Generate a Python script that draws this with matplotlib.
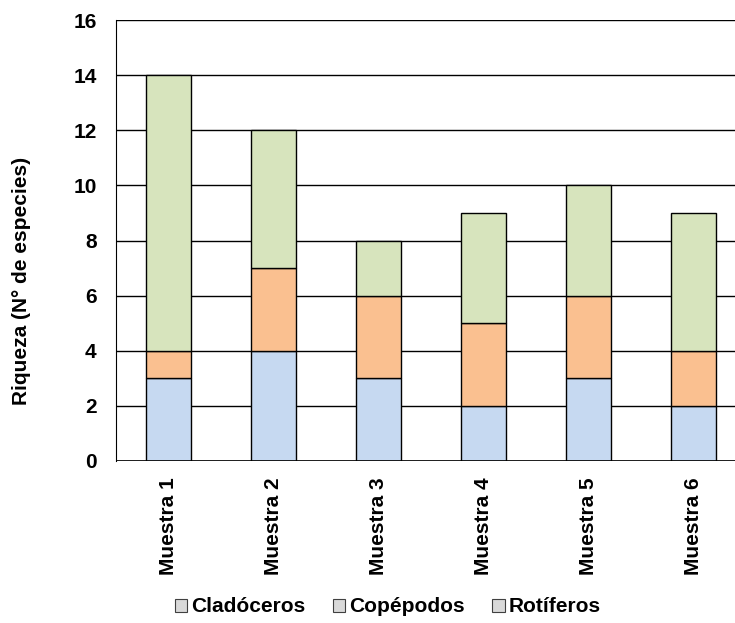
import matplotlib.pyplot as plt
from matplotlib.patches import Patch

muestras = ["Muestra 1", "Muestra 2", "Muestra 3", "Muestra 4", "Muestra 5", "Muestra 6"]
cladoceros = [3, 4, 3, 2, 3, 2]
copepodos = [1, 3, 3, 3, 3, 2]
rotiferos = [10, 5, 2, 4, 4, 5]
grupos = ["Cladóceros", "Copépodos", "Rotíferos"]
colores = ["#c6d9f1", "#fac090", "#d7e4bd"]

plt.rcParams["font.family"] = ["Liberation Sans", "DejaVu Sans"]
plt.rcParams["font.weight"] = "bold"

fig = plt.figure(figsize=(7.35, 6.23), dpi=100)
ax = fig.add_axes([116 / 735, 1 - 461 / 623, 630 / 735, 441 / 623])

x = range(len(muestras))
bottom = [0] * len(muestras)
for serie, color in zip([cladoceros, copepodos, rotiferos], colores):
    ax.bar(x, serie, bottom=bottom, width=0.43, color=color,
           edgecolor="black", linewidth=1.0, zorder=3)
    bottom = [b + v for b, v in zip(bottom, serie)]

ax.set_xlim(-0.5, len(muestras) - 0.5)
ax.set_ylim(0, 16)
ax.set_yticks(range(0, 17, 2))
ax.yaxis.grid(True, color="black", linewidth=1.0, zorder=0)
ax.set_axisbelow(True)
for side in ["top", "right", "bottom"]:
    ax.spines[side].set_visible(False)
ax.spines["left"].set_color("black")
ax.axhline(0, color="black", linewidth=1.2, zorder=4)

ax.set_xticks(list(x))
ax.set_xticklabels(muestras, rotation=90, fontsize=15, fontweight="bold")
ax.tick_params(axis="y", labelsize=15, length=0, pad=14)
ax.tick_params(axis="x", length=0, pad=12)

# etiqueta del eje y, algo desplazada hacia abajo
fig.text(22 / 735, 1 - 281 / 623, "Riqueza (N° de especies)", rotation=90,
         ha="center", va="center", fontsize=15, fontweight="bold")

handles = [Patch(facecolor="#d9d9d9", edgecolor="#404040", linewidth=0.8) for _ in grupos]
fig.legend(handles, grupos, loc="center", bbox_to_anchor=(388 / 735, 1 - 607 / 623),
           ncol=3, frameon=False, handlelength=0.6, handleheight=0.6,
           handletextpad=0.2, columnspacing=1.3, prop={"weight": "bold", "size": 15})

fig.savefig("out.png", dpi=100)
